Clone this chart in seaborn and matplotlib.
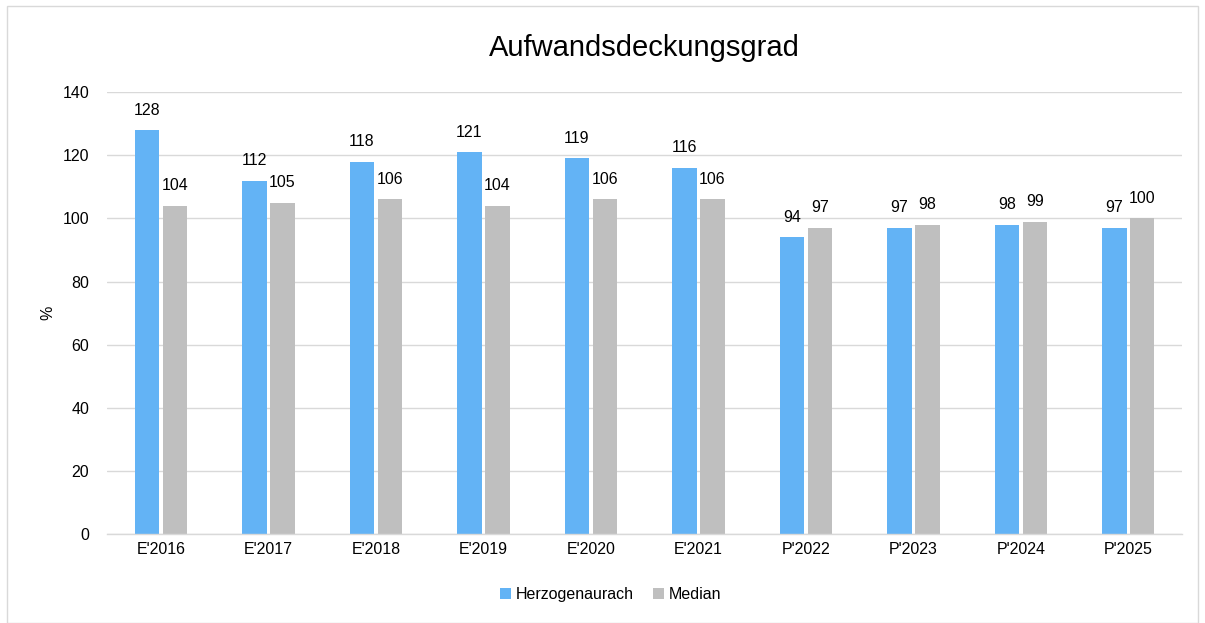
import matplotlib
matplotlib.use("Agg")
import matplotlib.pyplot as plt
import pandas as pd
import seaborn as sns
from matplotlib.patches import Rectangle

years = ["E'2016", "E'2017", "E'2018", "E'2019", "E'2020", "E'2021",
         "P'2022", "P'2023", "P'2024", "P'2025"]
herzogenaurach = [128, 112, 118, 121, 119, 116, 94, 97, 98, 97]
median = [104, 105, 106, 104, 106, 106, 97, 98, 99, 100]
series_names = ["Herzogenaurach", "Median"]
colors = ["#63B3F5", "#BFBFBF"]

df = pd.DataFrame({
    "Jahr": years * 2,
    "Wert": herzogenaurach + median,
    "Reihe": [series_names[0]] * len(years) + [series_names[1]] * len(years),
})

sns.set_theme(style="white")
plt.rcParams["font.family"] = ["Liberation Sans", "DejaVu Sans"]
plt.rcParams["text.color"] = "#000000"

fig = plt.figure(figsize=(12.05, 6.23), dpi=100)
ax = fig.add_axes([0.089, 0.143, 0.892, 0.709])

sns.barplot(data=df, x="Jahr", y="Wert", hue="Reihe", palette=colors,
            width=0.52, gap=0.13, ax=ax, saturation=1, linewidth=0)

for cont in ax.containers:
    ax.bar_label(cont, padding=9, fontsize=11.5, color="#000000")

ax.set_ylim(0, 140)
ax.set_yticks(range(0, 141, 20))
ax.yaxis.grid(True, color="#D9D9D9", linewidth=1)
ax.set_axisbelow(True)
ax.set_xlabel("")
ax.set_ylabel("%", fontsize=11.5, labelpad=5, color="#000000")
ax.tick_params(axis="both", labelsize=11.5, length=0, colors="#000000")
ax.tick_params(axis="y", pad=13)
ax.tick_params(axis="x", pad=6)
for s in ["top", "right", "left"]:
    ax.spines[s].set_visible(False)
ax.spines["bottom"].set_color("#D9D9D9")
ax.spines["bottom"].set_linewidth(1)

ax.set_title("Aufwandsdeckungsgrad", fontsize=21, pad=26, color="#000000")

ax.legend(loc="center", bbox_to_anchor=(0.507, 0.045), bbox_transform=fig.transFigure,
          ncol=2, frameon=False, fontsize=11.5, handlelength=0.7, handleheight=0.7,
          handletextpad=0.3, columnspacing=1.2)

fig.patches.append(Rectangle((0.006, 0.0), 0.988, 0.99, transform=fig.transFigure,
                             fill=False, edgecolor="#D9D9D9", linewidth=1))

fig.savefig("out.png", dpi=100)
